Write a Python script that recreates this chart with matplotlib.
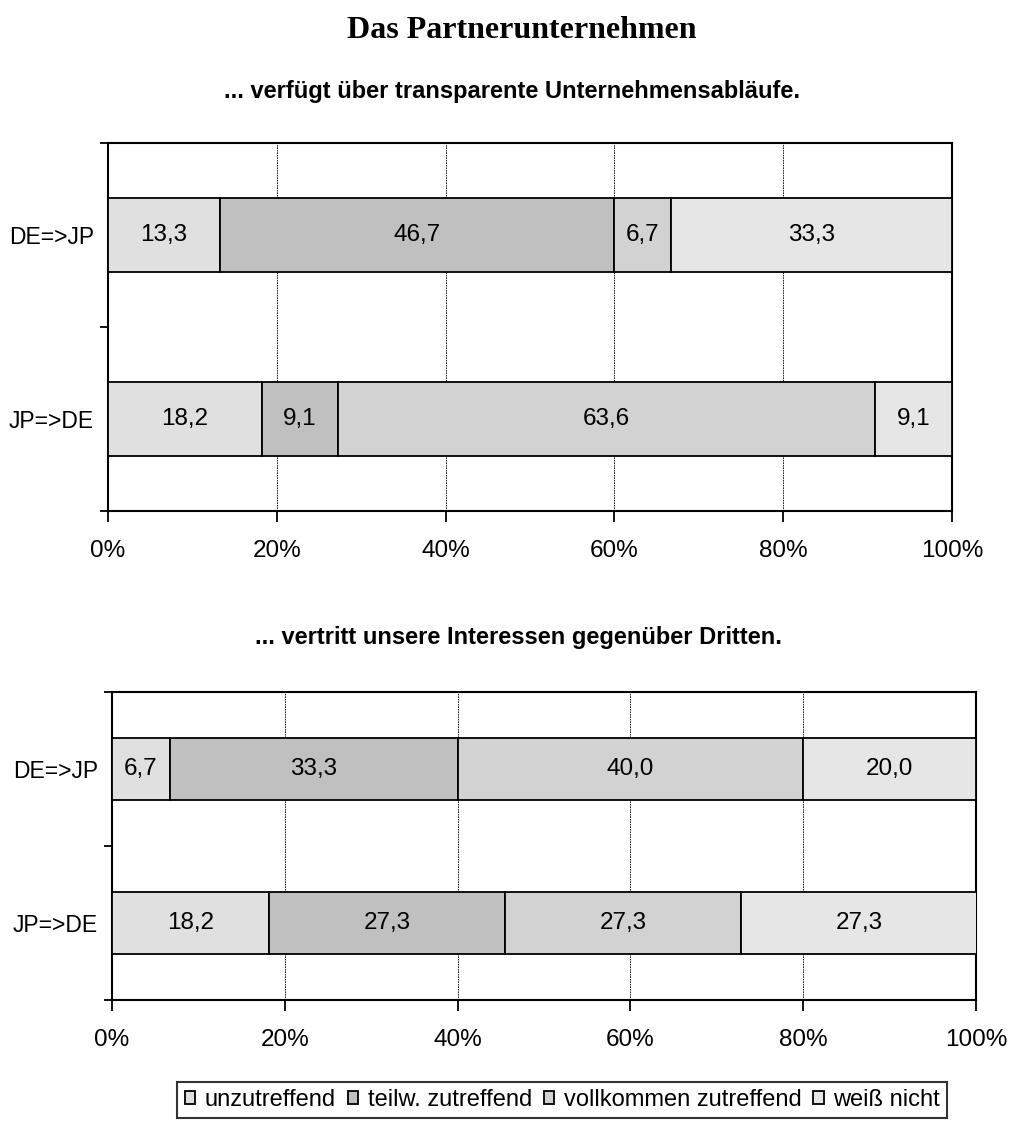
import matplotlib.pyplot as plt
import numpy as np

plt.rcParams['font.family'] = 'Liberation Sans'

# survey answers, in percent
groups = ['DE=>JP', 'JP=>DE']
answers = ['unzutreffend', 'teilw. zutreffend', 'vollkommen zutreffend', 'weiß nicht']
colors = ['#e0e0e0', '#c0c0c0', '#d2d2d2', '#e6e6e6']

q1_title = '... verfügt über transparente Unternehmensabläufe.'
q1_values = [[13.3, 46.7, 6.7, 33.3],
             [18.2, 9.1, 63.6, 9.1]]

q2_title = '... vertritt unsere Interessen gegenüber Dritten.'
q2_values = [[6.7, 33.3, 40.0, 20.0],
             [18.2, 27.3, 27.3, 27.3]]

fig = plt.figure(figsize=(10.13, 11.24), dpi=100)
fig.text(0.515, 0.9725, 'Das Partnerunternehmen', family='Liberation Serif',
         weight='bold', fontsize=23, ha='center', va='center')


def stacked(ax, values):
    y = np.arange(len(groups))
    left = np.zeros(len(groups))
    for j, name in enumerate(answers):
        w = np.array([row[j] for row in values])
        ax.barh(y, w, left=left, height=0.4, color=colors[j],
                edgecolor='black', linewidth=1.3, label=name, zorder=3)
        for i in range(len(groups)):
            if w[i] > 0:
                ax.text(left[i] + w[i] / 2, y[i], f'{w[i]:.1f}'.replace('.', ','),
                        ha='center', va='center', fontsize=17.5, zorder=4)
        left += w
    ax.set_xlim(0, 100)
    ax.set_ylim(1.5, -0.5)
    ax.set_xticks([0, 20, 40, 60, 80, 100])
    ax.set_xticklabels(['0%', '20%', '40%', '60%', '80%', '100%'])
    ax.set_yticks([-0.5, 0.5, 1.5])
    ax.set_yticklabels([])
    ax.set_yticks(y, minor=True)
    ax.set_yticklabels(groups, minor=True)
    ax.tick_params(axis='y', which='major', direction='out', length=6, width=1.3)
    ax.tick_params(axis='y', which='minor', length=0, pad=10, labelsize=16.5)
    ax.tick_params(axis='x', direction='out', length=8, width=1.3, pad=13, labelsize=17.5)
    ax.grid(axis='x', color='black', linestyle=(0, (2, 1)), linewidth=0.6, zorder=0)
    for s in ax.spines.values():
        s.set_linewidth(1.5)


ax1 = fig.add_axes([0.1066, 0.5454, 0.8332, 0.3274])
stacked(ax1, q1_values)
fig.text(0.505, 0.919, q1_title, weight='bold', fontsize=17, ha='center', va='center')

ax2 = fig.add_axes([0.1106, 0.1103, 0.8529, 0.2740])
stacked(ax2, q2_values)
fig.text(0.512, 0.433, q2_title, weight='bold', fontsize=17, ha='center', va='center')

handles, labels = ax2.get_legend_handles_labels()
leg = fig.legend(handles, labels, loc='upper right', bbox_to_anchor=(0.935, 0.0374),
                 ncol=4, fontsize=17, frameon=True, fancybox=False,
                 handlelength=0.45, handleheight=0.45, handletextpad=0.4,
                 columnspacing=0.5, borderpad=0.3, borderaxespad=0)
leg.get_frame().set_edgecolor('black')
leg.get_frame().set_linewidth(1.5)

fig.savefig('out.png', dpi=100)
